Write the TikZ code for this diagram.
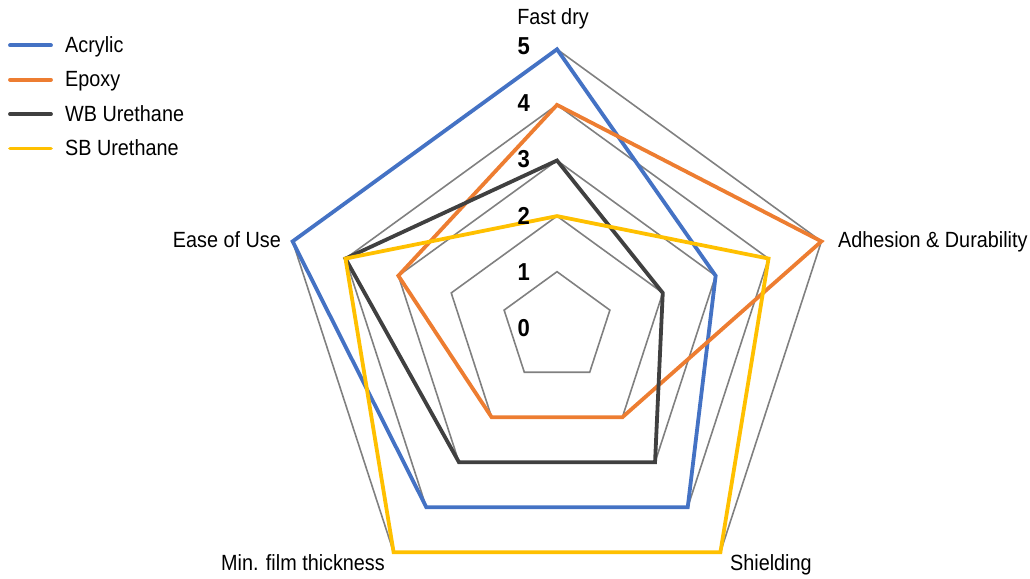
\documentclass[tikz,border=0pt]{standalone}
\usepackage{fontspec}
\setmainfont{Liberation Sans}[FakeStretch=0.9]
\definecolor{gridgray}{HTML}{808080}
\definecolor{acrylicblue}{HTML}{4472C4}
\definecolor{epoxyorange}{HTML}{ED7D31}
\definecolor{wbdark}{HTML}{404040}
\definecolor{sbyellow}{HTML}{FFC000}
\begin{document}
\begin{tikzpicture}[x=1pt, y=1pt,
	gridline/.style={draw=gridgray, line width=1.6pt},
	series/.style={line width=3.8pt, line join=miter},
	keyline/.style={line width=3.8pt, line cap=round},
	axislabel/.style={font=\fontsize{22pt}{25pt}\selectfont, inner sep=0pt},
	ticklabel/.style={font=\fontsize{24.5pt}{28pt}\selectfont\bfseries, inner sep=0pt, anchor=base east}]
	\useasboundingbox (0,0) rectangle (1030,578);
	\begin{scope}[shift={(557,250.7)}]
		% grid levels 1 to 5
		\foreach \r in {1,...,5}{
			\draw[gridline] (90:\r*55.6) -- (18:\r*55.6) -- (-54:\r*55.6) -- (-126:\r*55.6) -- (162:\r*55.6) -- cycle;
		}
		% series: fast dry / adhesion / shielding / min. film / ease of use
		\foreach \col/\a/\b/\c/\d/\e in {acrylicblue/5/3/4/4/5, epoxyorange/4/5/2/2/3, wbdark/3/2/3/3/4, sbyellow/2/4/5/5/4}{
			\draw[series, draw=\col] (90:\a*55.6) -- (18:\b*55.6) -- (-54:\c*55.6) -- (-126:\d*55.6) -- (162:\e*55.6) -- cycle;
		}
	\end{scope}
	\foreach \k in {0,...,5}{
		\node[ticklabel] (tick\k) at (530, 241+56.4*\k) {\k};
	}
	\node[axislabel, anchor=base] (fastdry) at (553,553) {Fast dry};
	\node[axislabel, anchor=base west] (adhesion) at (838,330) {Adhesion \& Durability};
	\node[axislabel, anchor=base west] (shielding) at (730,8) {Shielding};
	\node[axislabel, anchor=base east] (minfilm) at (385,8) {Min. film thickness};
	\node[axislabel, anchor=base east] (easeofuse) at (281,330) {Ease of Use};
	% legend
	\foreach \name/\col [count=\i] in {Acrylic/acrylicblue, Epoxy/epoxyorange, WB Urethane/wbdark, SB Urethane/sbyellow}{
		\coordinate (keystart\i) at (10, 567.1-34.4*\i);
		\draw[keyline, draw=\col] (keystart\i) -- ++(41,0);
		\node[axislabel, anchor=base west] (key\i) at (65, 559.8-34.4*\i) {\name};
	}
\end{tikzpicture}
\end{document}
